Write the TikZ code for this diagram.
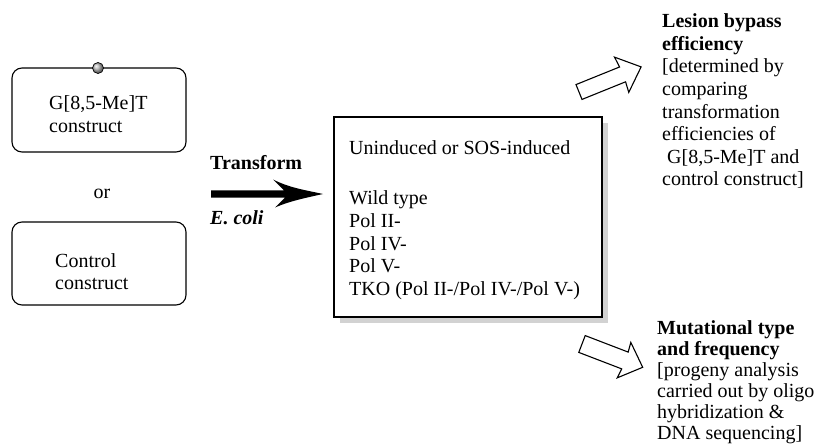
\documentclass[tikz,border=0pt]{standalone}
\usepackage{fontspec}
\setmainfont{Liberation Serif}
\usetikzlibrary{calc}
\begin{document}
\begin{tikzpicture}[x=1pt,y=-1pt,
  txt/.style={anchor=base west, inner sep=0pt, font=\fontsize{20}{22}\selectfont},
  btxt/.style={txt, font=\fontsize{20}{22}\selectfont\bfseries},
  roundbox/.style={draw, line width=1.1pt, rounded corners=10pt},
  mainbox/.style={draw, line width=1.1pt, fill=white},
  hollow/.style={draw, line width=1.1pt, fill=white, line join=miter}]
\useasboundingbox (0,0) rectangle (817,444);

% left construct boxes
\draw[roundbox] (12,68) rectangle (186,152);
\draw[roundbox] (12,222) rectangle (186,305);
\coordinate (ballc) at (98,68);
\shade[ball color=gray!55] (ballc) circle (5.5);
\draw[line width=0.7pt] (ballc) circle (5.5);

\node[txt] (g1) at (49,110) {G[8,5-Me]T};
\node[txt] (g2) at (49,132) {construct};
\node[txt, anchor=base] (or) at (102,198) {or};
\node[txt] (c1) at (55,267) {Control};
\node[txt] (c2) at (55,289) {construct};

% transform arrow
\node[btxt] (tr) at (210,169) {Transform};
\node[txt, font=\fontsize{20}{22}\selectfont\bfseries\itshape] (ec) at (210,224) {E. coli};
\coordinate (atail) at (211,194);
\coordinate (atip) at (323,194);
\fill ($(atail)+(0,-3.7)$) -- (284,190.3) -- (273,179.5)
   .. controls (290,188) and (305,190) .. (atip)
   .. controls (305,198) and (290,201) .. (275,207.5)
   -- (285,197.7) -- ($(atail)+(0,3.7)$) -- cycle;

% main box with shadow
\fill[gray!35] (340,123) rectangle (608,323);
\draw[mainbox] (334,117) rectangle (602,317);
\node[txt] (m0) at (349,154) {Uninduced or SOS-induced};
\node[txt] (m1) at (349,204) {Wild type};
\node[txt] (m2) at (349,227) {Pol II-};
\node[txt] (m3) at (349,250) {Pol IV-};
\node[txt] (m4) at (349,272) {Pol V-};
\node[txt] (m5) at (349,295) {TKO (Pol II-/Pol IV-/Pol V-)};

% hollow arrows
\begin{scope}[shift={(579,92)}, rotate=22]
\draw[hollow] (0,-8) -- (47,-8) -- (46,-19) -- (67,0) -- (46,19) -- (47,8) -- (0,8) -- cycle;
\end{scope}
\begin{scope}[shift={(582,344)}, rotate=-21]
\draw[hollow] (0,-9) -- (46,-9) -- (45,-19) -- (65,0) -- (45,19) -- (46,9) -- (0,9) -- cycle;
\end{scope}

% result texts upper
\node[btxt] (u1) at (662,28) {Lesion bypass};
\node[btxt] (u2) at (662,50.5) {efficiency};
\node[txt] (u3) at (662,73) {[determined by};
\node[txt] (u4) at (662,95.5) {comparing};
\node[txt] (u5) at (662,118) {transformation};
\node[txt] (u6) at (662,140.5) {efficiencies of};
\node[txt] (u7) at (662,163) {\ G[8,5-Me]T and};
\node[txt] (u8) at (662,185.5) {control construct]};

% result texts lower
\node[btxt] (l1) at (657,334) {Mutational type};
\node[btxt] (l2) at (657,355) {and frequency};
\node[txt] (l3) at (657,376) {[progeny analysis};
\node[txt] (l4) at (657,397) {carried out by oligo};
\node[txt] (l5) at (657,418) {hybridization \&};
\node[txt] (l6) at (657,439) {DNA sequencing]};
\end{tikzpicture}
\end{document}
